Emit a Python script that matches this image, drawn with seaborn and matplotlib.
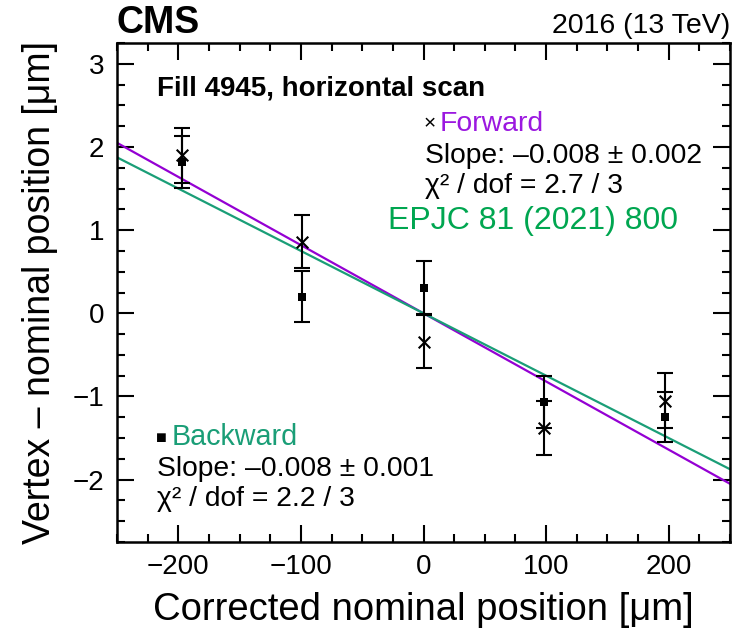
import numpy as np
import pandas as pd
import matplotlib
matplotlib.use("Agg")
import matplotlib.pyplot as plt
import seaborn as sns
from matplotlib.ticker import MultipleLocator

# ---- data ----
x_pos = [-197, -99, 0, 98, 197]
fwd_y = [1.90, 0.86, -0.34, -1.38, -1.05]
fwd_err = [0.33, 0.32, 0.32, 0.32, 0.33]
bwd_y = [1.82, 0.20, 0.31, -1.07, -1.25]
bwd_err = [0.31, 0.31, 0.32, 0.31, 0.30]
fit_names = ["Forward", "Backward"]
fit_slopes = [-0.0082, -0.0075]
fit_intercepts = [0.0, 0.0]
xticks = [-200, -100, 0, 100, 200]
yticks = [-2, -1, 0, 1, 2, 3]

sns.set_style("ticks")
plt.rcParams["font.family"] = ["Liberation Sans", "DejaVu Sans"]
plt.rcParams["axes.unicode_minus"] = True
for k in ["text.color", "axes.labelcolor", "xtick.color", "ytick.color", "axes.edgecolor"]:
    plt.rcParams[k] = "black"

C_FWD = "#9400d3"
C_BWD = "#1a9e77"
C_PUB = "#00a650"

fig = plt.figure(figsize=(7.37, 6.32), dpi=100)
ax = fig.add_axes([117/737, 1-542/632, (730-117)/737, (542-43)/632])

xlim = (-250, 250)
ylim = (-2.75, 3.25)

# fit lines
xx = np.array(xlim, dtype=float)
lines = []
for n, s, b in zip(fit_names, fit_slopes, fit_intercepts):
    lines.append(pd.DataFrame({"x": xx, "y": s * xx + b, "fit": n}))
ldf = pd.concat(lines)
sns.lineplot(data=ldf, x="x", y="y", hue="fit", palette={"Forward": C_FWD, "Backward": C_BWD},
             ax=ax, legend=False, linewidth=1.6, zorder=2)

# error bars
ax.errorbar(x_pos, fwd_y, yerr=fwd_err, fmt="none", ecolor="black", elinewidth=1.5,
            capsize=6, capthick=1.5, zorder=3)
ax.errorbar(x_pos, bwd_y, yerr=bwd_err, fmt="none", ecolor="black", elinewidth=1.5,
            capsize=6, capthick=1.5, zorder=3)

pdf = pd.DataFrame({"x": x_pos * 2, "y": fwd_y + bwd_y,
                    "dir": ["Forward"] * len(x_pos) + ["Backward"] * len(x_pos)})
sns.scatterplot(data=pdf[pdf["dir"] == "Forward"], x="x", y="y", marker="x", s=70,
                color="black", linewidth=1.5, ax=ax, legend=False, zorder=4)
sns.scatterplot(data=pdf[pdf["dir"] == "Backward"], x="x", y="y", marker="s", s=40,
                color="black", linewidth=0, ax=ax, legend=False, zorder=4)

ax.set_xlim(*xlim)
ax.set_ylim(*ylim)
ax.set_xticks(xticks)
ax.set_yticks(yticks)
ax.xaxis.set_minor_locator(MultipleLocator(25))
ax.yaxis.set_minor_locator(MultipleLocator(0.25))
ax.tick_params(which="both", direction="in", top=True, right=True, width=1.5, labelsize=20, color="black")
ax.tick_params(which="major", length=12, pad=9)
ax.tick_params(which="minor", length=6)
for sp in ax.spines.values():
    sp.set_linewidth(1.8)
    sp.set_color("black")

ax.set_xlabel("Corrected nominal position [μm]", fontsize=27.5)
ax.set_ylabel("Vertex – nominal position [μm]", fontsize=27)
ax.xaxis.set_label_coords(0.5, (542 - 610) / 499)
ax.xaxis.label.set_va("center")
ax.yaxis.set_label_coords((40 - 117) / 613, 0.5)
ax.yaxis.label.set_va("center")

# header texts
fig.text(117/737, 1-33/632, "CMS", fontsize=27, fontweight="bold", ha="left", va="baseline")
fig.text(730/737, 1-33/632, "2016 (13 TeV)", fontsize=20.5, ha="right", va="baseline")

def fx(px):
    return (px - 117) / (730 - 117)

def fy(py):
    return (542 - py) / (542 - 43)

T = ax.transAxes
ax.text(fx(157), fy(96), "Fill 4945, horizontal scan", transform=T, fontsize=20,
        fontweight="bold", ha="left", va="baseline")
ax.text(fx(424), fy(129), "×", transform=T, fontsize=15, ha="left", va="baseline")
ax.text(fx(440), fy(131), "Forward", transform=T, fontsize=20.4, color="#9b18e0", ha="left", va="baseline")
ax.text(fx(425), fy(163), "Slope: –0.008 ± 0.002", transform=T, fontsize=20.3, ha="left", va="baseline")
ax.text(fx(425), fy(193), "χ² / dof = 2.7 / 3", transform=T, fontsize=20.3, ha="left", va="baseline")
ax.text(fx(388), fy(229), "EPJC 81 (2021) 800", transform=T, fontsize=23, color=C_PUB, ha="left", va="baseline")

ax.text(fx(156), fy(443), "■", transform=T, fontsize=13, ha="left", va="baseline")
ax.text(fx(172), fy(445), "Backward", transform=T, fontsize=20.7, color=C_BWD, ha="left", va="baseline")
ax.text(fx(157), fy(476), "Slope: –0.008 ± 0.001", transform=T, fontsize=20.3, ha="left", va="baseline")
ax.text(fx(157), fy(506), "χ² / dof = 2.2 / 3", transform=T, fontsize=20.3, ha="left", va="baseline")

fig.savefig("out.png", dpi=100)
